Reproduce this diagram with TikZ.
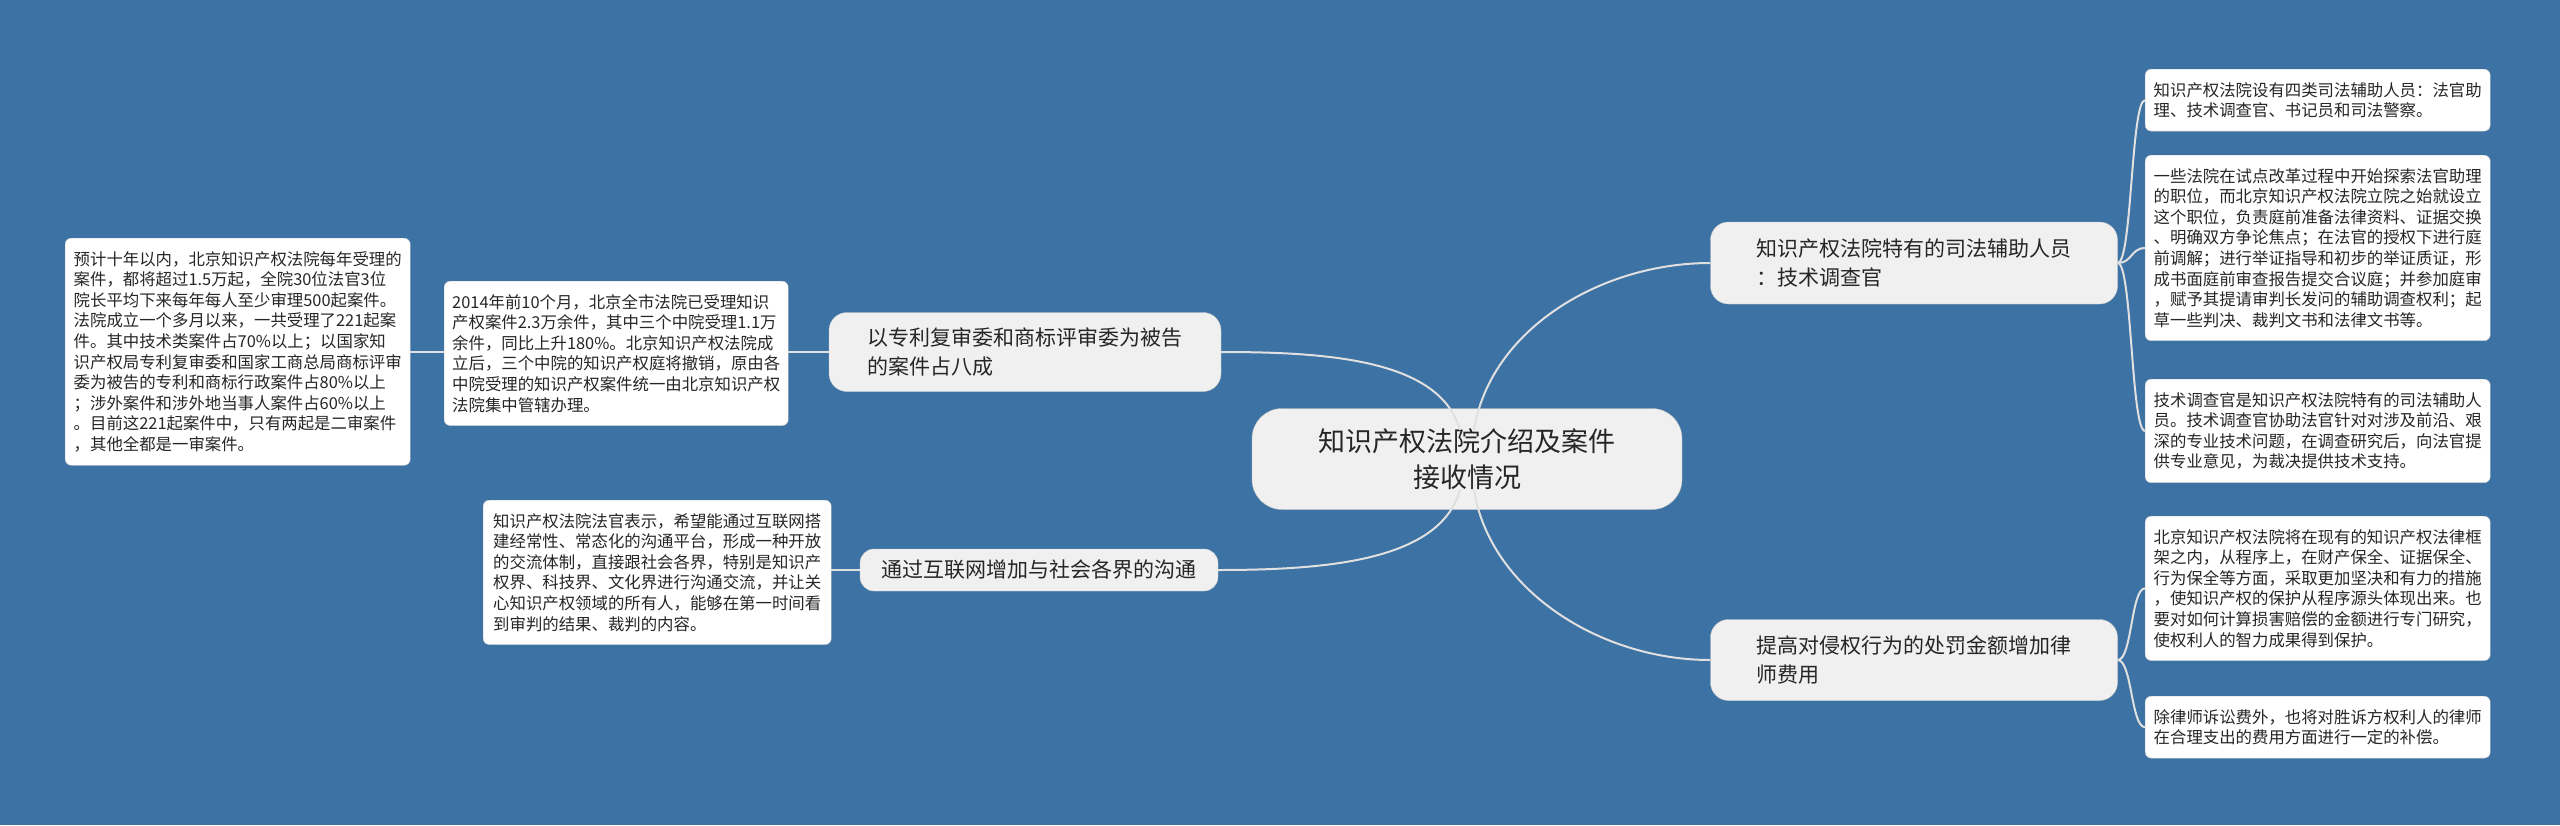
\documentclass[tikz,border=0pt]{standalone}
\usepackage{fontspec}
\setmainfont{Noto Sans CJK SC}
\begin{document}
\begin{tikzpicture}[x=1pt,y=-1pt,
  leaf/.style={draw=white!80!black,fill=white,rounded corners=6pt,align=left,font=\fontsize{16.4}{20.6}\selectfont,inner xsep=8pt,inner ysep=13pt,anchor=north west,text=black!85},
  branch/.style={draw=white!80!black,fill=black!6,rounded corners=18pt,align=left,font=\fontsize{21}{29}\selectfont,inner xsep=16pt,inner ysep=8pt,text=black!85},
  conn/.style={draw=white!88!black,line width=2pt}]
\fill[fill={rgb,255:red,61;green,114;blue,164}] (0,0) rectangle (2560,825);
\useasboundingbox (0,0) rectangle (2560,825);
\node[draw=white!75!black,fill=black!6,rounded corners=30pt,minimum width=430pt,minimum height=101pt,align=center,font=\fontsize{27}{36}\selectfont,text=black!85] (c) at (1467,459) {知识产权法院介绍及案件\\接收情况};
\node[branch,minimum width=392pt,minimum height=79pt] (b1) at (1025,352) {以专利复审委和商标评审委为被告\\的案件占八成};
\node[branch,minimum width=358pt,minimum height=42pt,rounded corners=14pt] (b2) at (1039,570) {通过互联网增加与社会各界的沟通};
\node[branch,minimum width=407pt,minimum height=82pt] (b3) at (1914,263) {知识产权法院特有的司法辅助人员\\：技术调查官};
\node[branch,minimum width=407pt,minimum height=81pt] (b4) at (1914,660) {提高对侵权行为的处罚金额增加律\\师费用};
\node[leaf,minimum width=343pt] (l1) at (444,281) {2014年前10个月，北京全市法院已受理知识\\产权案件2.3万余件，其中三个中院受理1.1万\\余件，同比上升180\%。北京知识产权法院成\\立后，三个中院的知识产权庭将撤销，原由各\\中院受理的知识产权案件统一由北京知识产权\\法院集中管辖办理。};
\node[leaf,minimum width=345pt] (l0) at (65,238) {预计十年以内，北京知识产权法院每年受理的\\案件，都将超过1.5万起，全院30位法官3位\\院长平均下来每年每人至少审理500起案件。\\法院成立一个多月以来，一共受理了221起案\\件。其中技术类案件占70\%以上；以国家知\\识产权局专利复审委和国家工商总局商标评审\\委为被告的专利和商标行政案件占80\%以上\\；涉外案件和涉外地当事人案件占60\%以上\\。目前这221起案件中，只有两起是二审案件\\，其他全都是一审案件。};
\node[leaf,minimum width=348pt] (l2) at (483,500) {知识产权法院法官表示，希望能通过互联网搭\\建经常性、常态化的沟通平台，形成一种开放\\的交流体制，直接跟社会各界，特别是知识产\\权界、科技界、文化界进行沟通交流，并让关\\心知识产权领域的所有人，能够在第一时间看\\到审判的结果、裁判的内容。};
\node[leaf,minimum width=345pt] (r1) at (2145,69) {知识产权法院设有四类司法辅助人员：法官助\\理、技术调查官、书记员和司法警察。};
\node[leaf,minimum width=345pt] (r2) at (2145,155) {一些法院在试点改革过程中开始探索法官助理\\的职位，而北京知识产权法院立院之始就设立\\这个职位，负责庭前准备法律资料、证据交换\\、明确双方争论焦点；在法官的授权下进行庭\\前调解；进行举证指导和初步的举证质证，形\\成书面庭前审查报告提交合议庭；并参加庭审\\，赋予其提请审判长发问的辅助调查权利；起\\草一些判决、裁判文书和法律文书等。};
\node[leaf,minimum width=345pt] (r3) at (2145,379) {技术调查官是知识产权法院特有的司法辅助人\\员。技术调查官协助法官针对对涉及前沿、艰\\深的专业技术问题，在调查研究后，向法官提\\供专业意见，为裁决提供技术支持。};
\node[leaf,minimum width=345pt] (r4) at (2145,516) {北京知识产权法院将在现有的知识产权法律框\\架之内，从程序上，在财产保全、证据保全、\\行为保全等方面，采取更加坚决和有力的措施\\，使知识产权的保护从程序源头体现出来。也\\要对如何计算损害赔偿的金额进行专门研究，\\使权利人的智力成果得到保护。};
\node[leaf,minimum width=345pt] (r5) at (2145,696) {除律师诉讼费外，也将对胜诉方权利人的律师\\在合理支出的费用方面进行一定的补偿。};
\coordinate (cl1) at (1460,430);
\coordinate (cl2) at (1460,490);
\coordinate (cr1) at (1474,430);
\coordinate (cr2) at (1474,490);
\draw[conn] (cl1) .. controls (1440,360) and (1330,352) .. (b1.east);
\draw[conn] (cl2) .. controls (1440,560) and (1330,570) .. (b2.east);
\draw[conn] (cr1) .. controls (1490,330) and (1600,263) .. (b3.west);
\draw[conn] (cr2) .. controls (1490,590) and (1600,660) .. (b4.west);
\draw[conn] (b1.west) -- (l1.east |- b1.west);
\draw[conn] (l1.west |- b1.west) -- (l0.east |- b1.west);
\draw[conn] (b2.west) -- (l2.east |- b2.west);
\foreach \r in {r1,r2,r3} \draw[conn] (b3.east) .. controls (2132,263) and ([xshift=-14pt]\r.west) .. (\r.west);
\foreach \r in {r4,r5} \draw[conn] (b4.east) .. controls (2132,660) and ([xshift=-14pt]\r.west) .. (\r.west);
\end{tikzpicture}
\end{document}
